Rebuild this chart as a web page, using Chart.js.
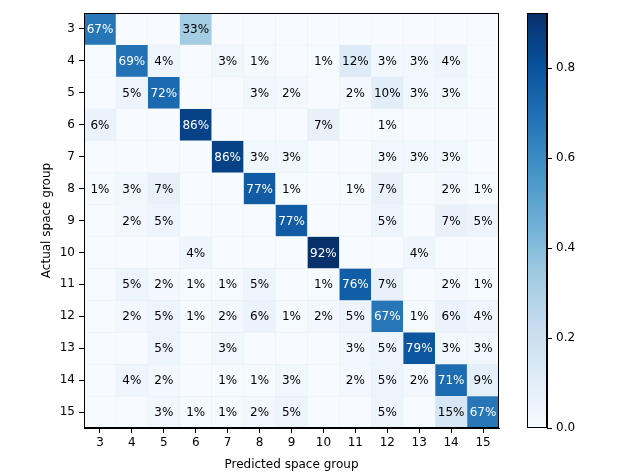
<!DOCTYPE html>
<html>
<head>
<meta charset="utf-8">
<script src="https://cdn.jsdelivr.net/npm/chart.js@4/dist/chart.umd.min.js"></script>
<style>
  html, body { margin: 0; padding: 0; background: #ffffff; }
  #wrap { position: relative; width: 640px; height: 476px; }
  #main { position: absolute; left: 0; top: 0; }
  #cbar { position: absolute; left: 500px; top: 0; }
</style>
</head>
<body>
<div id="wrap">
  <canvas id="main" width="640" height="476"></canvas>
  <canvas id="cbar" width="140" height="476"></canvas>
</div>
<script>
// ---- data (percent of each actual group predicted as each group) ----
const predictedLabels = ['3','4','5','6','7','8','9','10','11','12','13','14','15'];
const actualGroups = [3,4,5,6,7,8,9,10,11,12,13,14,15];
const row3  = [67,0,0,33,0,0,0,0,0,0,0,0,0];
const row4  = [0,69,4,0,3,1,0,1,12,3,3,4,0];
const row5  = [0,5,72,0,0,3,2,0,2,10,3,3,0];
const row6  = [6,0,0,86,0,0,0,7,0,1,0,0,0];
const row7  = [0,0,0,0,86,3,3,0,0,3,3,3,0];
const row8  = [1,3,7,0,0,77,1,0,1,7,0,2,1];
const row9  = [0,2,5,0,0,0,77,0,0,5,0,7,5];
const row10 = [0,0,0,4,0,0,0,92,0,0,4,0,0];
const row11 = [0,5,2,1,1,5,0,1,76,7,0,2,1];
const row12 = [0,2,5,1,2,6,1,2,5,67,1,6,4];
const row13 = [0,0,5,0,3,0,0,0,3,5,79,3,3];
const row14 = [0,4,2,0,1,1,3,0,2,5,2,71,9];
const row15 = [0,0,3,1,1,2,5,0,0,5,0,15,67];
const colorbarTicks = [0, 0.2, 0.4, 0.6, 0.8];
const colorMax = 0.923;

const rows = [row3,row4,row5,row6,row7,row8,row9,row10,row11,row12,row13,row14,row15];

// ---- matplotlib "Blues" colormap ----
const bluesStops = ['#f7fbff','#deebf7','#c6dbef','#9ecae1','#6baed6','#4292c6','#2171b5','#08519c','#08306b'];
function hexToRgb(h){ return [parseInt(h.substr(1,2),16), parseInt(h.substr(3,2),16), parseInt(h.substr(5,2),16)]; }
const bluesRgb = bluesStops.map(hexToRgb);
function blues(t){
  t = Math.max(0, Math.min(1, t));
  const p = t * (bluesRgb.length - 1);
  const i = Math.min(Math.floor(p), bluesRgb.length - 2);
  const f = p - i;
  const a = bluesRgb[i], b = bluesRgb[i+1];
  return 'rgb(' + [0,1,2].map(k => Math.round(a[k] + (b[k]-a[k])*f)).join(',') + ')';
}

Chart.defaults.font.family = '"DejaVu Sans", sans-serif';
Chart.defaults.font.size = 12;
Chart.defaults.color = '#000';

const frame = {
  id: 'frame',
  afterDraw(chart){
    const {ctx, chartArea: a} = chart;
    ctx.save();
    ctx.strokeStyle = '#000';
    ctx.lineWidth = 1;
    ctx.strokeRect(Math.round(a.left)+0.5, Math.round(a.top)+0.5, Math.round(a.right-a.left)-1, Math.round(a.bottom-a.top)-1);
    ctx.restore();
  }
};

const cellText = {
  id: 'cellText',
  afterDatasetsDraw(chart){
    const ctx = chart.ctx;
    ctx.save();
    ctx.font = '12px "DejaVu Sans", sans-serif';
    ctx.textAlign = 'center';
    ctx.textBaseline = 'middle';
    chart.data.datasets.forEach((ds, di) => {
      const meta = chart.getDatasetMeta(di);
      meta.data.forEach((el, ci) => {
        const v = ds.values[ci];
        if (!v) return;
        const c = el.getCenterPoint();
        ctx.fillStyle = (v/100) > colorMax/2 ? '#ffffff' : '#000000';
        ctx.fillText(v + '%', c.x, c.y + 1);
      });
    });
    ctx.restore();
  }
};

const datasets = rows.map((r, i) => ({
  label: 'Actual ' + actualGroups[i],
  values: r,
  data: r.map(() => [actualGroups[i] - 0.5, actualGroups[i] + 0.5]),
  backgroundColor: r.map(v => blues((v/100)/colorMax)),
  borderColor: 'rgba(200,210,225,0.25)',
  borderWidth: 0.5,
  borderSkipped: false,
  grouped: false,
  barPercentage: 1,
  categoryPercentage: 1
}));

new Chart(document.getElementById('main'), {
  type: 'bar',
  data: { labels: predictedLabels, datasets },
  options: {
    responsive: false,
    animation: false,
    devicePixelRatio: 1,
    layout: { padding: { left: 0, top: 13, right: 141, bottom: 0 } },
    plugins: { legend: { display: false }, tooltip: { enabled: false } },
    scales: {
      x: {
        type: 'category',
        offset: true,
        grid: { display: true, drawOnChartArea: false, drawTicks: true, tickLength: 5, color: '#000', offset: false },
        border: { display: true, color: '#000' },
        ticks: { padding: 3, maxRotation: 0, color: '#000' },
        title: { display: true, text: 'Predicted space group', color: '#000', padding: { top: 0, bottom: 4 } },
        afterFit(s){ s.height = 48; }
      },
      y: {
        type: 'linear',
        reverse: true,
        min: actualGroups[0] - 0.5,
        max: actualGroups[actualGroups.length-1] + 0.5,
        afterBuildTicks(s){ s.ticks = actualGroups.map(v => ({ value: v })); },
        grid: { display: true, drawOnChartArea: false, drawTicks: true, tickLength: 5, color: '#000' },
        border: { display: true, color: '#000' },
        ticks: { padding: 4, color: '#000', callback: v => String(v) },
        title: { display: true, text: 'Actual space group', color: '#000', padding: { top: 40, bottom: 0 } },
        afterFit(s){ s.width = 84; }
      }
    }
  },
  plugins: [cellText, frame]
});

// ---- colorbar ----
new Chart(document.getElementById('cbar'), {
  type: 'bar',
  data: {
    labels: ['scale'],
    datasets: [{
      data: [[0, colorMax]],
      backgroundColor(ctx){
        const a = ctx.chart.chartArea;
        if (!a) return '#f7fbff';
        const g = ctx.chart.ctx.createLinearGradient(0, a.bottom, 0, a.top);
        bluesStops.forEach((c, i) => g.addColorStop(i/(bluesStops.length-1), c));
        return g;
      },
      borderWidth: 0,
      barPercentage: 1,
      categoryPercentage: 1
    }]
  },
  options: {
    responsive: false,
    animation: false,
    devicePixelRatio: 1,
    layout: { padding: { left: 27, top: 13, right: 0, bottom: 48 } },
    plugins: { legend: { display: false }, tooltip: { enabled: false } },
    scales: {
      x: { display: false },
      y: {
        position: 'right',
        min: 0,
        max: colorMax,
        afterBuildTicks(s){ s.ticks = colorbarTicks.map(v => ({ value: v })); },
        grid: { display: true, drawOnChartArea: false, drawTicks: true, tickLength: 5, color: '#000' },
        border: { display: true, color: '#000' },
        ticks: { padding: 4, color: '#000', callback: v => Number(v).toFixed(1) },
        afterFit(s){ s.width = 93; }
      }
    }
  },
  plugins: [frame]
});
</script>
</body>
</html>
